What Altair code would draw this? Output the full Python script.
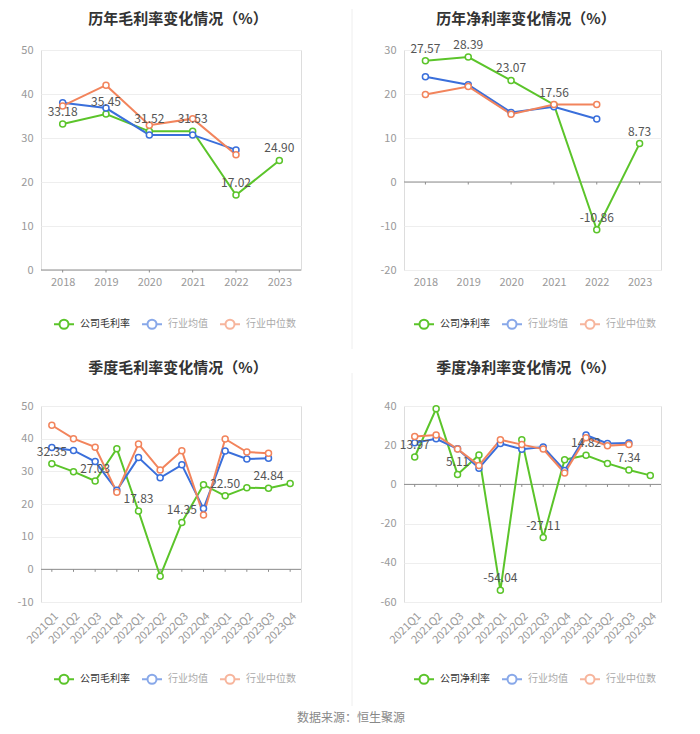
import altair as alt
import pandas as pd

FONT = "Noto Sans CJK SC"
GREEN, BLUE, ORANGE = "#5BC42A", "#3A6FDB", "#F2845C"
AVG, MED = "行业均值", "行业中位数"

years = ["2018", "2019", "2020", "2021", "2022", "2023"]
quarters = ["2021Q1", "2021Q2", "2021Q3", "2021Q4",
            "2022Q1", "2022Q2", "2022Q3", "2022Q4",
            "2023Q1", "2023Q2", "2023Q3", "2023Q4"]

# 历年毛利率
gross_company = [33.18, 35.45, 31.52, 31.53, 17.02, 24.90]
gross_avg = [38.0, 36.8, 30.7, 30.7, 27.3, None]
gross_median = [37.3, 42.0, 32.9, 34.4, 26.2, None]
gross_labels = [0, 1, 2, 3, 4, 5]

# 历年净利率
net_company = [27.57, 28.39, 23.07, 17.56, -10.86, 8.73]
net_avg = [23.9, 22.1, 15.8, 17.1, 14.3, None]
net_median = [19.9, 21.7, 15.4, 17.6, 17.6, None]
net_labels = [0, 1, 2, 3, 4, 5]

# 季度毛利率
q_gross_company = [32.35, 29.9, 27.03, 36.9, 17.83, -2.1, 14.35, 25.9, 22.50, 25.0, 24.84, 26.3]
q_gross_avg = [37.3, 36.4, 33.0, 24.2, 34.2, 28.0, 32.0, 18.6, 36.2, 33.8, 34.0, None]
q_gross_median = [44.1, 40.0, 37.4, 23.6, 38.4, 30.4, 36.3, 16.6, 39.9, 35.9, 35.5, None]
q_gross_labels = [0, 2, 4, 6, 8, 10]

# 季度净利率
q_net_company = [13.97, 38.6, 5.11, 15.0, -54.04, 22.8, -27.11, 12.6, 14.82, 10.7, 7.34, 4.6]
q_net_avg = [21.3, 23.3, 18.2, 8.3, 20.9, 17.9, 19.1, 7.1, 25.2, 20.9, 21.1, None]
q_net_median = [24.5, 25.2, 18.0, 9.7, 22.8, 20.3, 18.0, 5.8, 23.8, 19.7, 20.4, None]
q_net_labels = [0, 2, 4, 6, 8, 10]

SYMBOL = ("M -1 0 L -0.45 0 M 0.45 0 L 1 0 "
          "M 0.45 0 A 0.45 0.45 0 1 1 -0.45 0 A 0.45 0.45 0 1 1 0.45 0 Z")
HYPHEN = "replace(datum.label, '\u2212', '-')"


def panel(title, title_x, title_y, cats, comp_name, comp, avg, med, label_idx,
          ydomain, yvals, width, height, angle, legend_x, legend_y, extras=()):
    rows = []
    for i, c in enumerate(cats):
        for s, arr in ((comp_name, comp), (AVG, avg), (MED, med)):
            if arr[i] is not None:
                rows.append({"cat": c, "series": s, "value": arr[i],
                             "lab": bool(s == comp_name and i in label_idx)})
    df = pd.DataFrame(rows)
    xenc = alt.X("cat:N", sort=cats,
                 scale=alt.Scale(type="point", padding=0.5),
                 axis=alt.Axis(title=None, domain=False, ticks=False,
                               labelAngle=angle, labelColor="#999",
                               labelFontSize=11, labelPadding=8 if angle else 6,
                               labelOverlap=False))
    yenc = alt.Y("value:Q", scale=alt.Scale(domain=ydomain, nice=False, zero=False),
                 axis=alt.Axis(title=None, values=yvals, tickCount=len(yvals),
                               domain=False, ticks=False,
                               grid=True, gridColor="#eeeeee", labelColor="#999",
                               labelFontSize=11, labelPadding=8, labelOverlap=False,
                               labelExpr=HYPHEN))
    legend = alt.Legend(
        orient="none", legendX=legend_x, legendY=legend_y, direction="horizontal",
        title=None, symbolType=SYMBOL, symbolSize=400, symbolStrokeWidth=2,
        symbolFillColor="white", labelFontSize=10, labelOffset=5, columnPadding=8,
        labelColor=alt.ExprRef(f"datum.label == '{comp_name}' ? '#333' : '#aaa'"),
        symbolOpacity=alt.ExprRef(f"datum.label == '{comp_name}' ? 1 : 0.6"),
    )
    color = alt.Color("series:N",
                      scale=alt.Scale(domain=[comp_name, AVG, MED], range=[GREEN, BLUE, ORANGE]),
                      legend=legend)
    base = alt.Chart(df)
    zero = alt.Chart(pd.DataFrame({"v": [0]})).mark_rule(color="#8c8c8c", strokeWidth=1).encode(y="v:Q")
    ticks = alt.Chart(pd.DataFrame({"cat": cats, "v": [0] * len(cats)})).mark_point(
        shape="M0,0L0,1", size=25, color="#8c8c8c", strokeWidth=1, filled=False, opacity=1
    ).encode(x=xenc, y="v:Q")
    lines = base.mark_line(strokeWidth=2).encode(x=xenc, y=yenc, color=color)
    points = base.mark_point(shape="circle", filled=False, fill="white", size=36,
                             strokeWidth=1.5, opacity=1).encode(x=xenc, y=yenc, color=color)
    labels = base.transform_filter("datum.lab").transform_calculate(
        txt="replace(format(datum.value, '.2f'), '\u2212', '-')"
    ).mark_text(dy=-12, fontSize=12, color="#555", font=FONT).encode(x=xenc, y=yenc, text="txt:N")
    head = alt.Chart(pd.DataFrame({"t": [title]})).mark_text(
        fontSize=15, fontWeight="bold", color="#333", font=FONT, align="center", baseline="middle"
    ).encode(x=alt.value(title_x), y=alt.value(title_y), text="t:N")
    layers = [zero, ticks, lines, points, labels, head] + list(extras)
    return alt.layer(*layers).properties(width=width, height=height)


def vrule(y1, y2):
    return alt.Chart(pd.DataFrame({"k": [0]})).mark_rule(color="#eeeeee", strokeWidth=1).encode(
        x=alt.value(-52), y=alt.value(y1), y2=alt.value(y2))


source = alt.Chart(pd.DataFrame({"t": ["数据来源：恒生聚源"]})).mark_text(
    fontSize=12, color="#888", font=FONT, baseline="middle", align="center"
).encode(x=alt.value(310), y=alt.value(312), text="t:N")

p1 = panel("历年毛利率变化情况（%）", 137, -31, years, "公司毛利率", gross_company, gross_avg, gross_median,
           gross_labels, [0, 50], [0, 10, 20, 30, 40, 50], 260, 220, 0, 12, 263)
p2 = panel("历年净利率变化情况（%）", 122, -31, years, "公司净利率", net_company, net_avg, net_median,
           net_labels, [-20, 30], [-20, -10, 0, 10, 20, 30], 257, 220, 0, 9, 263,
           extras=[vrule(-41, 299)])
p3 = panel("季度毛利率变化情况（%）", 137, -38, quarters, "公司毛利率", q_gross_company, q_gross_avg,
           q_gross_median, q_gross_labels, [-10, 50], [-10, 0, 10, 20, 30, 40, 50], 260, 196, -45,
           12, 262, extras=[source])
p4 = panel("季度净利率变化情况（%）", 122, -38, quarters, "公司净利率", q_net_company, q_net_avg,
           q_net_median, q_net_labels, [-60, 40], [-60, -40, -20, 0, 20, 40], 257, 196, -45,
           9, 262, extras=[vrule(-33, 300)])

chart = alt.concat(p1, p2, p3, p4, columns=2, spacing={"row": 136, "column": 103}).properties(
    bounds="flush", padding={"left": 8, "top": 0, "right": 5, "bottom": 5}
).resolve_scale(color="independent", x="independent", y="independent").resolve_legend(
    color="independent"
).configure_view(stroke=None).configure(font=FONT, background="white")

chart.save("out.html", embed_options={"renderer": "svg", "actions": False})
